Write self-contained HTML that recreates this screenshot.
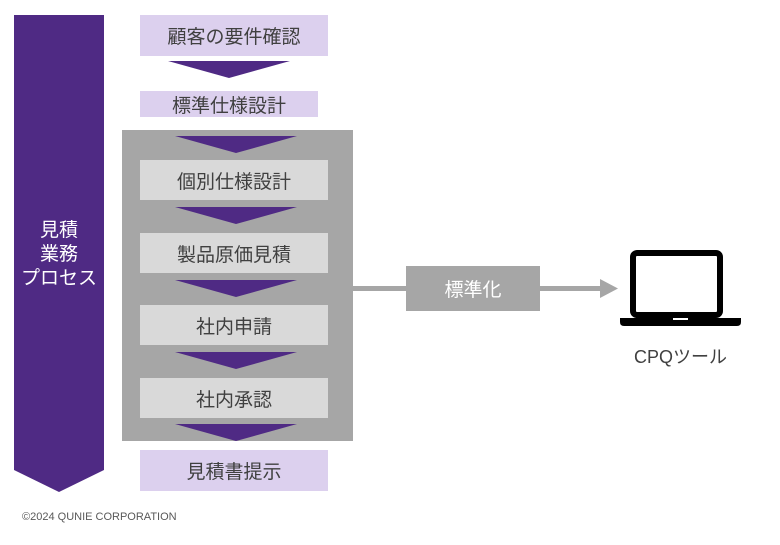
<!DOCTYPE html>
<html><head><meta charset="utf-8"><style>
body{margin:0;width:780px;height:545px;background:#fff;position:relative;overflow:hidden;font-family:"Liberation Sans","Noto Sans CJK JP",sans-serif}
.b{position:absolute;display:flex;align-items:center;justify-content:center;color:#404040;font-size:19px}
.p{background:#dcd0ee}.g{background:#d9d9d9}
</style></head><body>
<svg width="780" height="545" style="position:absolute;left:0;top:0">
<polygon points="14,15 104,15 104,470 59,492 14,470" fill="#4f2a84"/>
<rect x="122" y="130" width="231" height="311" fill="#a6a6a6"/>
<g fill="#4f2a84">
<polygon points="168,61 290,61 229,78"/>
<polygon points="175,136 297,136 236,153"/>
<polygon points="175,207 297,207 236,224"/>
<polygon points="175,280 297,280 236,297"/>
<polygon points="175,352 297,352 236,369"/>
<polygon points="175,424 297,424 236,441"/>
</g>
<rect x="353" y="286" width="55" height="5" fill="#a6a6a6"/>
<rect x="540" y="286" width="62" height="5" fill="#a6a6a6"/>
<polygon points="600,279 618,288.5 600,298" fill="#a6a6a6"/>
<rect x="633" y="253" width="87" height="62" rx="4" fill="none" stroke="#000" stroke-width="6"/>
<path d="M620,318 H741 V322 Q741,326 737,326 H624 Q620,326 620,322 Z" fill="#000"/>
<rect x="673" y="318" width="15" height="2" fill="#fff"/>
</svg>
<div class="b" style="left:14px;top:215px;width:90px;height:80px;color:#fff;font-size:19px;line-height:24px;text-align:center">見積<br>業務<br>プロセス</div>
<div class="b p" style="left:140px;top:15px;width:188px;height:41px">顧客の要件確認</div>
<div class="b p" style="left:140px;top:91px;width:178px;height:26px">標準仕様設計</div>
<div class="b g" style="left:140px;top:160px;width:188px;height:40px">個別仕様設計</div>
<div class="b g" style="left:140px;top:233px;width:188px;height:40px">製品原価見積</div>
<div class="b g" style="left:140px;top:305px;width:188px;height:40px">社内申請</div>
<div class="b g" style="left:140px;top:378px;width:188px;height:40px">社内承認</div>
<div class="b p" style="left:140px;top:450px;width:188px;height:41px">見積書提示</div>
<div class="b" style="left:406px;top:266px;width:134px;height:45px;background:#a6a6a6;color:#fff">標準化</div>
<div class="b" style="left:620px;top:342px;width:121px;height:28px;font-size:18px">CPQツール</div>
<div style="position:absolute;left:22px;top:511px;font-size:11px;color:#595959">©2024 QUNIE CORPORATION</div>
</body></html>
